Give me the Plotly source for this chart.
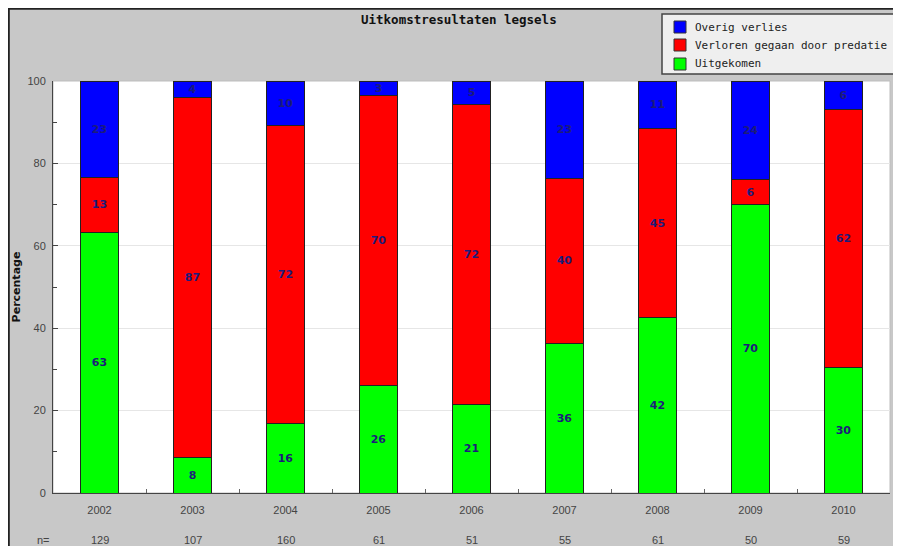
import math
import plotly.graph_objects as go

years = ["2002", "2003", "2004", "2005", "2006", "2007", "2008", "2009", "2010"]
n_values = [129, 107, 160, 61, 51, 55, 61, 50, 59]
uitgekomen = [63.3, 8.5, 16.9, 26.2, 21.6, 36.4, 42.6, 70.0, 30.5]
predatie = [13.4, 87.4, 72.3, 70.4, 72.6, 40.0, 45.8, 6.0, 62.7]
overig = [23.3, 4.1, 10.8, 3.4, 5.8, 23.6, 11.6, 24.0, 6.8]

series = [
    ("Uitgekomen", uitgekomen, "#00ff00"),
    ("Verloren gegaan door predatie", predatie, "#ff0000"),
    ("Overig verlies", overig, "#0000ff"),
]

OFF = 8  # page body margin
W, H = 893, 538
L, R, T, B = 45, 11, 73, 53
pw, ph = W - L - R, H - T - B


def px_x(px):
    return (px - OFF - L) / pw


def px_y(py):
    return (H - B - (py - OFF)) / ph


fig = go.Figure()
for name, vals, col in series:
    fig.add_trace(go.Bar(
        x=years, y=vals, name=name, showlegend=False,
        marker=dict(color=col, line=dict(color="#222222", width=1)),
        text=[str(int(math.floor(v))) for v in vals],
        textposition="inside", insidetextanchor="middle",
        textangle=0,
        textfont=dict(family="DejaVu Sans", size=11, color="#1c1c7a", weight="bold"),
        constraintext="none",
    ))

annotations = [
    dict(text="<b>Uitkomstresultaten legsels</b>", x=px_x(459), y=px_y(19),
         xref="paper", yref="paper", showarrow=False, xanchor="center", yanchor="middle",
         font=dict(family="DejaVu Sans Mono", size=12.5, color="#111111")),
    dict(text="n=", x=px_x(43), y=px_y(540), xref="paper", yref="paper",
         showarrow=False, xanchor="center", yanchor="middle",
         font=dict(family="Liberation Sans", size=11, color="#444444")),
]
for i, n in enumerate(n_values):
    annotations.append(dict(text=str(n), x=i, y=px_y(540), xref="x", yref="paper",
                            showarrow=False, xanchor="center", yanchor="middle",
                            font=dict(family="Liberation Sans", size=11, color="#444444")))

shapes = [
    dict(type="line", xref="paper", yref="paper", x0=px_x(7), x1=px_x(905),
         y0=px_y(8.8), y1=px_y(8.8), line=dict(color="#222222", width=2)),
    dict(type="line", xref="paper", yref="paper", x0=px_x(8.8), x1=px_x(8.8),
         y0=px_y(7), y1=px_y(550), line=dict(color="#222222", width=2)),
    dict(type="rect", xref="paper", yref="paper", x0=0, x1=1, y0=0, y1=1,
         line=dict(color="#bdbdbd", width=1), layer="below"),
]

# legend box drawn by hand
leg_names = ["Overig verlies", "Verloren gegaan door predatie", "Uitgekomen"]
leg_cols = ["#0000ff", "#ff0000", "#00ff00"]
leg_y = [27, 45, 64]
shapes.append(dict(type="rect", xref="paper", yref="paper", x0=px_x(662), x1=px_x(894),
                   y0=px_y(74), y1=px_y(14), fillcolor="#efefef",
                   line=dict(color="#444444", width=1.5)))
for nm, c, yy in zip(leg_names, leg_cols, leg_y):
    shapes.append(dict(type="rect", xref="paper", yref="paper", x0=px_x(674), x1=px_x(686),
                       y0=px_y(yy + 6), y1=px_y(yy - 6), fillcolor=c,
                       line=dict(color="#333333", width=1)))
    annotations.append(dict(text=nm, x=px_x(693), y=px_y(yy), xref="paper", yref="paper",
                            showarrow=False, xanchor="left", yanchor="middle",
                            font=dict(family="DejaVu Sans Mono", size=11, color="#222222")))

fig.update_layout(
    width=W, height=H,
    margin=dict(l=L, r=R, t=T, b=B, pad=0, autoexpand=False),
    barmode="stack", bargap=0.6,
    paper_bgcolor="#c8c8c8", plot_bgcolor="white",
    showlegend=False,
    annotations=annotations,
    shapes=shapes,
    uniformtext=dict(mode=False),
)

fig.update_xaxes(
    type="category", range=[-0.5, 8.5], showline=True, linecolor="#444444", linewidth=1,
    ticks="inside", ticklen=4, tickcolor="#666666", tickson="boundaries",
    ticklabelstandoff=7,
    tickfont=dict(family="Liberation Sans", size=11, color="#444444"),
    showgrid=False, fixedrange=True,
)
fig.update_yaxes(
    range=[0, 100], dtick=20, showline=True, linecolor="#444444", linewidth=1,
    ticks="inside", ticklen=5, tickcolor="#444444",
    minor=dict(dtick=10, ticks="inside", ticklen=4, tickcolor="#444444", showgrid=False),
    showgrid=True, gridcolor="#e6e6e6", gridwidth=1, zeroline=False,
    ticklabelstandoff=4,
    tickfont=dict(family="Liberation Sans", size=11, color="#444444"),
    title=dict(text="<b>Percentage</b>", standoff=4,
               font=dict(family="DejaVu Sans", size=11, color="#111111")),
    fixedrange=True,
)

fig.write_html("out.html")
